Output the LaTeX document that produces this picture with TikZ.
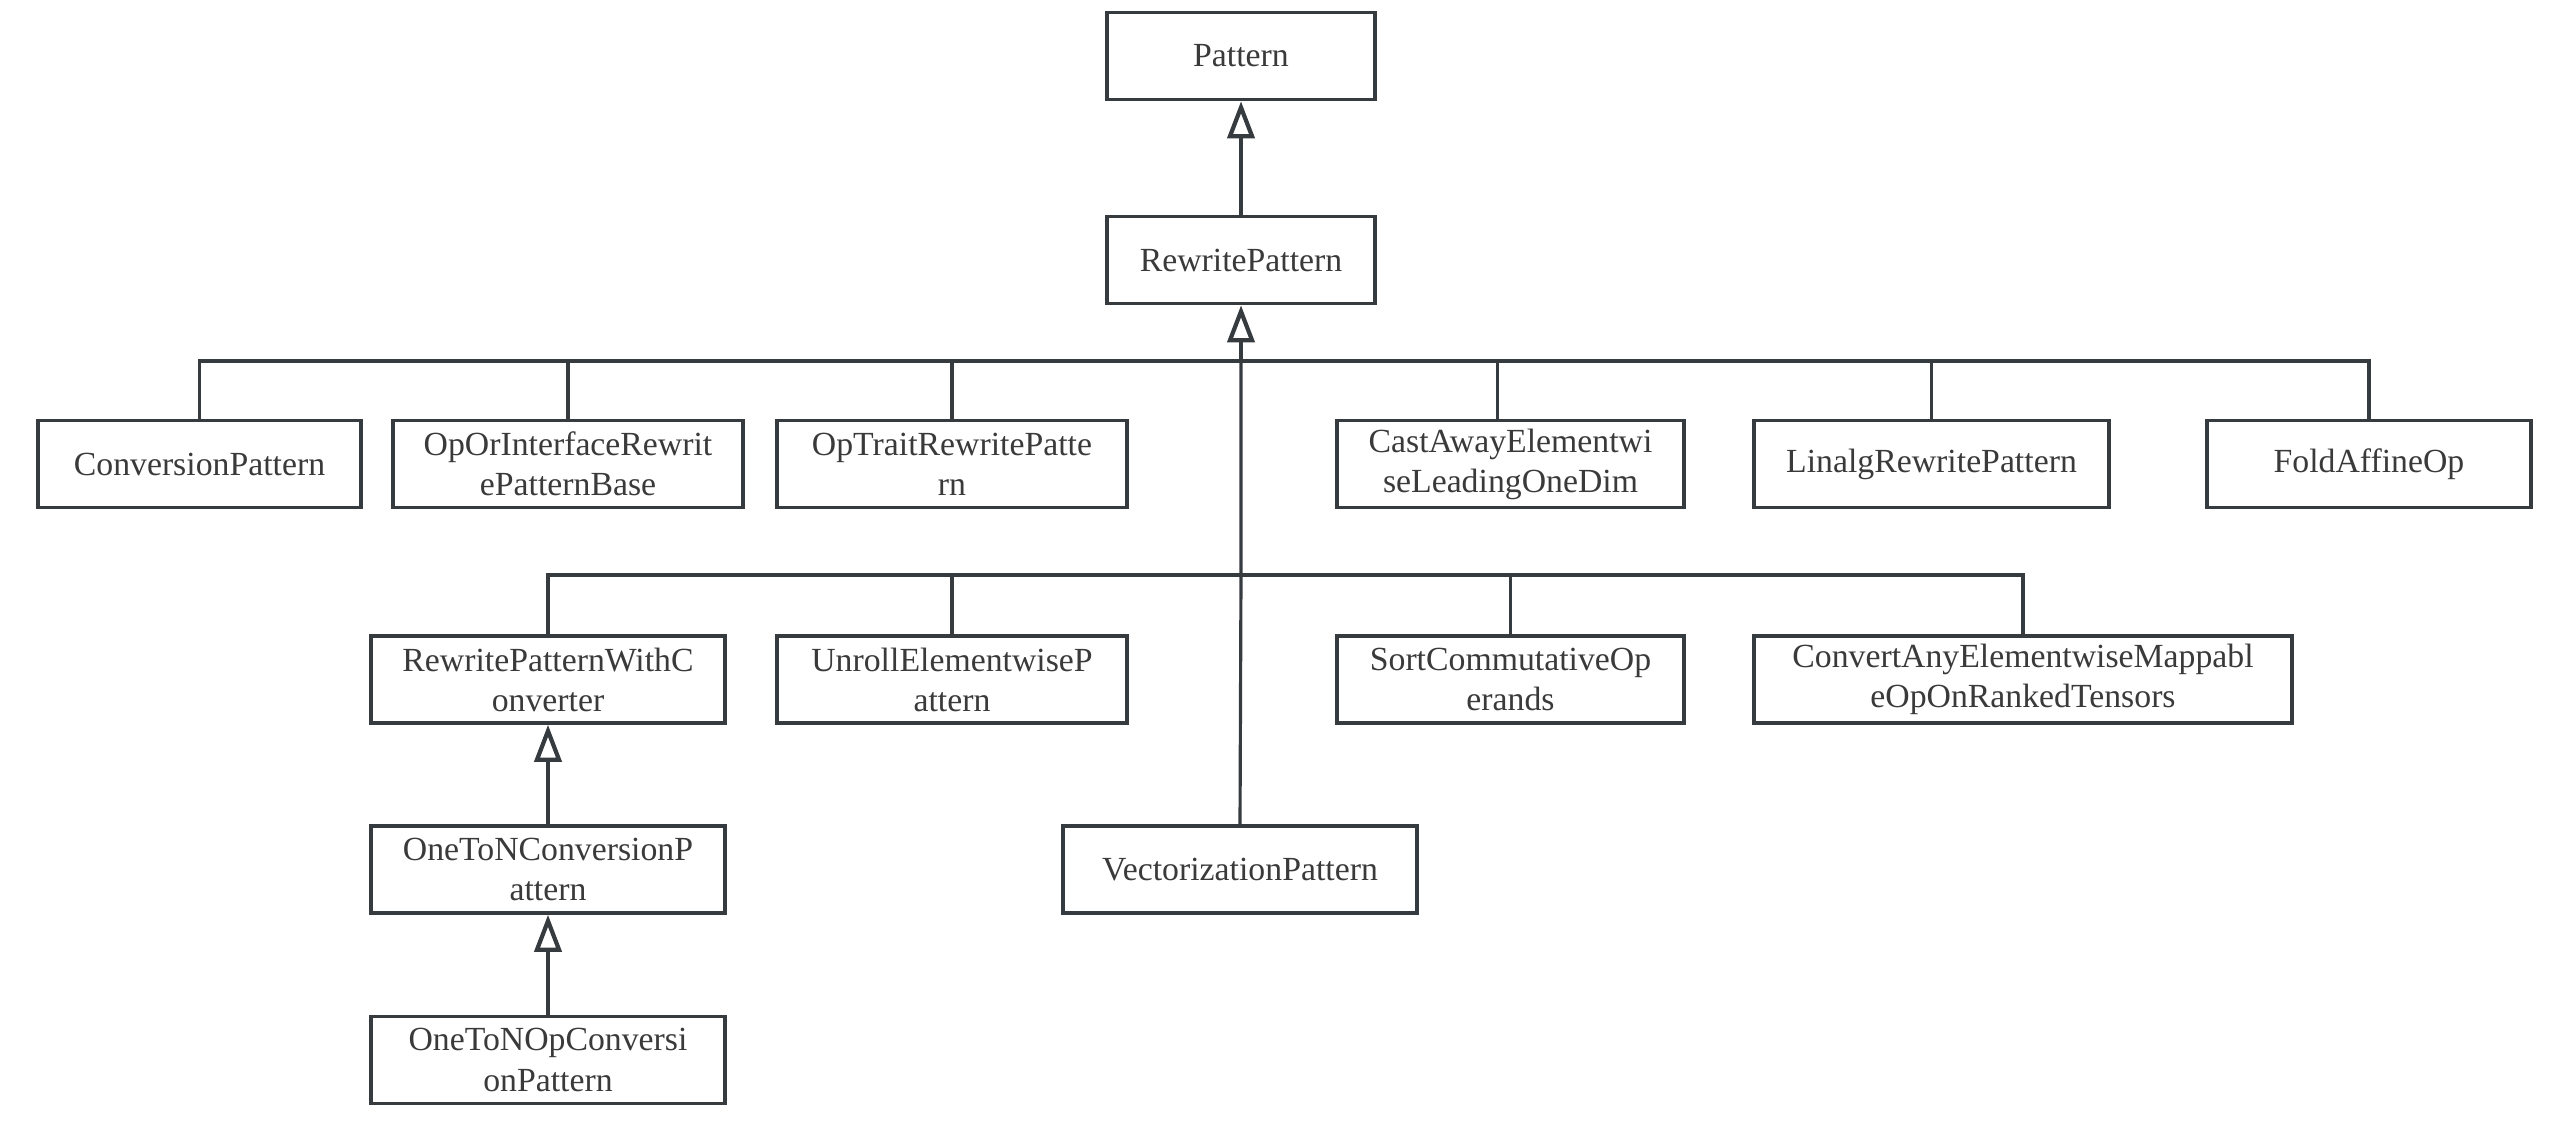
\documentclass[tikz,border=0pt]{standalone}
\usepackage{fontspec}
\setmainfont{Liberation Serif}
\newfontfamily\clsfont{Liberation Serif}
\usetikzlibrary{arrows.meta}
\definecolor{ink}{HTML}{363B40}
\definecolor{txt}{HTML}{3A3A3A}
\tikzset{
  cls/.style={draw=ink, line width=1pt, fill=white, text=txt,
    font=\clsfont\fontsize{9.6}{11.4}\selectfont, align=center, inner sep=0pt,
    minimum height=0.87cm},
  conn/.style={draw=ink, line width=0.9pt},
  inh/.style={conn, -{Triangle[open, length=0.37cm, width=0.27cm, line width=1.2pt]}},
}
\begin{document}
\begin{tikzpicture}[x=0.01cm, y=-0.01cm]
\useasboundingbox (0,0) rectangle (2560,1120);
% nodes
\node[cls, minimum width=2.68cm] (pat) at (1241,56) {Pattern};
\node[cls, minimum width=2.68cm] (rp) at (1241,260) {RewritePattern};
\node[cls, minimum width=3.23cm] (conv) at (199.5,464) {ConversionPattern};
\node[cls, minimum width=3.50cm] (opor) at (568,464) {OpOrInterfaceRewrit\\ePatternBase};
\node[cls, minimum width=3.50cm] (optrait) at (952,464) {OpTraitRewritePatte\\rn};
\node[cls, minimum width=3.47cm] (cast) at (1510.5,464) {CastAwayElementwi\\seLeadingOneDim};
\node[cls, minimum width=3.55cm] (linalg) at (1931.5,464) {LinalgRewritePattern};
\node[cls, minimum width=3.24cm] (fold) at (2369,464) {FoldAffineOp};
\node[cls, minimum width=3.54cm] (rpwc) at (548,679.5) {RewritePatternWithC\\onverter};
\node[cls, minimum width=3.50cm] (unroll) at (952,679.5) {UnrollElementwiseP\\attern};
\node[cls, minimum width=3.47cm] (sort) at (1510.5,679.5) {SortCommutativeOp\\erands};
\node[cls, minimum width=5.38cm] (convany) at (2023,679.5) {ConvertAnyElementwiseMappabl\\eOpOnRankedTensors};
\node[cls, minimum width=3.54cm] (onc) at (548,869.5) {OneToNConversionP\\attern};
\node[cls, minimum width=3.54cm] (vec) at (1240,869.5) {VectorizationPattern};
\node[cls, minimum width=3.54cm] (onop) at (548,1060) {OneToNOpConversi\\onPattern};
% junctions
\coordinate (j1) at (1241,361);
\coordinate (j2) at (1241,575);
% connectors
\foreach \n in {conv,opor,optrait,linalg,fold} \draw[conn] (\n.north) |- (j1);
\draw[conn] ([xshift=-0.13cm]cast.north) |- (j1);
\foreach \n in {rpwc,unroll,sort,convany} \draw[conn] (\n.north) |- (j2);
\draw[conn] (vec.north) -- (j2) -- (j1);
\draw[inh] (j1) -- (rp.south);
\draw[inh] (rp.north) -- (pat.south);
\draw[inh] (onc.north) -- (rpwc.south);
\draw[inh] (onop.north) -- (onc.south);
\end{tikzpicture}
\end{document}
